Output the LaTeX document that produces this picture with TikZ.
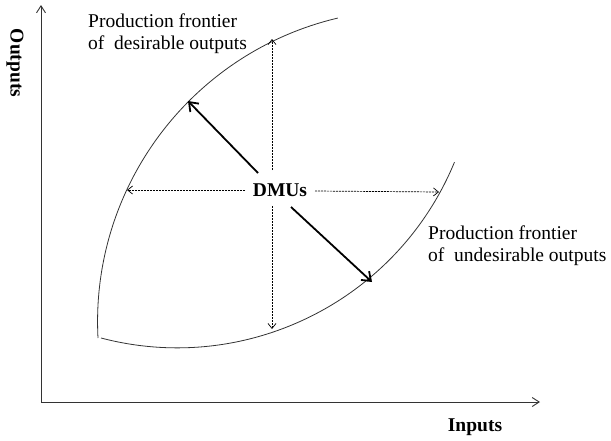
\documentclass[tikz,border=0pt]{standalone}
\usepackage{fontspec}
\setmainfont{Liberation Serif}
\usetikzlibrary{arrows.meta}
\begin{document}
\begin{tikzpicture}[x=1pt,y=-1pt,
  axis/.style={line width=0.9pt,draw=black!80,-{Straight Barb[length=7pt,width=9pt]}},
  frontier/.style={line width=0.8pt,draw=black!80},
  dasharrow/.style={line width=0.7pt,dash pattern=on 2pt off 1pt,-{Straight Barb[length=5pt,width=8pt]}},
  boldarrow/.style={line width=1.8pt,-{Straight Barb[length=8pt,width=12pt]}},
  lbl/.style={font=\fontsize{19.5}{22}\selectfont,align=left,inner sep=0pt},
  blbl/.style={font=\fontsize{19.5}{22}\selectfont\bfseries,inner sep=0pt}]
\useasboundingbox (0,0) rectangle (611,440);
% axes
\coordinate (O) at (41,402);
\coordinate (ytop) at (41,5);
\coordinate (xend) at (540,402);
\draw[axis] (O) -- (ytop);
\draw[axis] (O) -- (xend);
\node[blbl,rotate=-90] (outputs) at (15,63) {Outputs};
\node[blbl] (inputs) at (475,427) {Inputs};
% frontiers
\coordinate (dstart) at (98,338);
\coordinate (ustart) at (101,338);
\draw[frontier] (dstart) arc[start angle=177, end angle=256.7, radius=312];
\draw[frontier] (ustart) arc[start angle=104.7, end angle=22.4, radius=300];
% labels
\node[lbl,anchor=north west] (desir) at (88,14) {Production frontier\\of\ \ desirable outputs};
\node[lbl,anchor=north west] (undes) at (428,226) {Production frontier\\of\ \ undesirable outputs};
\node[blbl] (dmu) at (280,190) {DMUs};
% arrow end points
\coordinate (up0) at (272,170);
\coordinate (up1) at (272,39);
\coordinate (dn0) at (272,206);
\coordinate (dn1) at (272,329);
\coordinate (lf0) at (245,190);
\coordinate (lf1) at (127,190);
\coordinate (rt0) at (315,191);
\coordinate (rt1) at (439,192);
\coordinate (ul0) at (258,173);
\coordinate (ul1) at (188,101);
\coordinate (dr0) at (291,207);
\coordinate (dr1) at (372,282);
\draw[dasharrow] (up0) -- (up1);
\draw[dasharrow] (dn0) -- (dn1);
\draw[dasharrow] (lf0) -- (lf1);
\draw[dasharrow] (rt0) -- (rt1);
\draw[boldarrow] (ul0) -- (ul1);
\draw[boldarrow] (dr0) -- (dr1);
\end{tikzpicture}
\end{document}
